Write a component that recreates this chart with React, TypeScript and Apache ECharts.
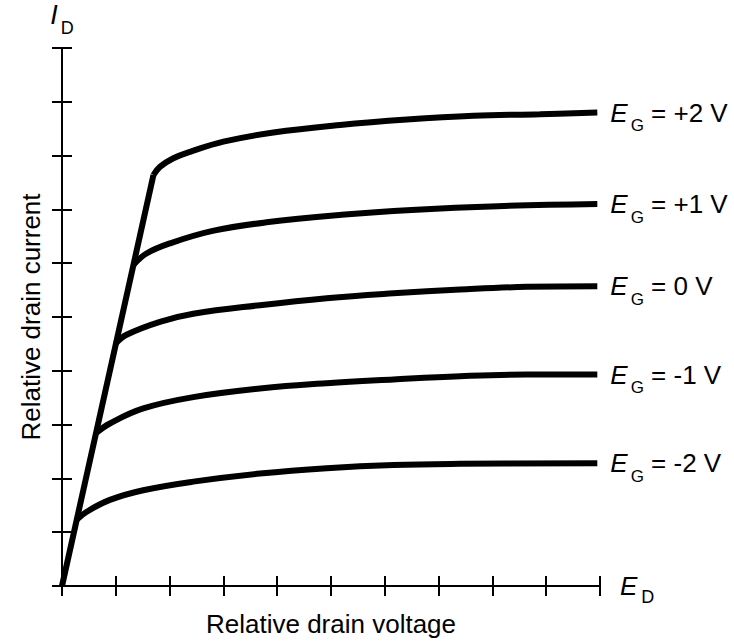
import React, { useEffect, useRef } from "react";
import * as echarts from "echarts";

// Diagonal (ohmic region boundary)
const diagX = [0, 1.7];
const diagY = [0, 7.64];

// Gate-voltage curves: drain voltage (x) and relative drain current (y)
const p2X = [1.7, 1.82, 2.07, 2.38, 3.0, 3.93, 5.17, 6.41, 7.65, 8.88, 9.95];
const p2Y = [7.64, 7.79, 7.95, 8.07, 8.26, 8.43, 8.57, 8.67, 8.74, 8.77, 8.8];

const p1X = [1.33, 1.57, 2.01, 2.8, 3.8, 5.2, 6.5, 8.1, 9.95];
const p1Y = [5.97, 6.18, 6.37, 6.6, 6.76, 6.9, 6.99, 7.06, 7.1];

const z0X = [1.0, 1.2, 1.82, 2.44, 3.68, 4.92, 6.16, 7.4, 8.64, 9.95];
const z0Y = [4.51, 4.67, 4.91, 5.06, 5.22, 5.35, 5.44, 5.51, 5.56, 5.57];

const m1X = [0.63, 0.89, 1.51, 2.44, 3.68, 4.92, 6.16, 7.4, 8.64, 9.95];
const m1Y = [2.84, 3.02, 3.3, 3.51, 3.67, 3.77, 3.84, 3.9, 3.93, 3.93];

const m2X = [0.27, 0.46, 0.89, 1.51, 2.44, 3.68, 4.92, 6.16, 7.4, 9.95];
const m2Y = [1.23, 1.38, 1.6, 1.78, 1.94, 2.09, 2.19, 2.25, 2.27, 2.28];

const gateLabels = ["+2 V", "+1 V", "0 V", "-1 V", "-2 V"];

const FONT = "'Liberation Sans', Arial, Helvetica, sans-serif";

function zip(xs: number[], ys: number[]) {
  return xs.map((x, i) => [x, ys[i]]);
}

export default function App() {
  const ref = useRef<HTMLDivElement>(null);
  useEffect(() => {
    if (!ref.current) return;
    const chart = echarts.init(ref.current, null, { renderer: "svg" });
    const curves = [
      [p2X, p2Y],
      [p1X, p1Y],
      [z0X, z0Y],
      [m1X, m1Y],
      [m2X, m2Y],
    ];
    const richLabel = {
      e: { fontSize: 26, fontStyle: "italic", fontFamily: FONT, color: "#000", lineHeight: 28 },
      g: { fontSize: 17, fontFamily: FONT, color: "#000", lineHeight: 20, padding: [26, 0, 0, 3] },
      t: { fontSize: 26, fontFamily: FONT, color: "#000", lineHeight: 28 },
    };
    const lineStyle = { color: "#000", width: 6 };
    const series: any[] = [
      {
        type: "line",
        data: zip(diagX, diagY),
        showSymbol: false,
        symbol: "none",
        lineStyle,
        silent: true,
      },
      ...curves.map((c, i) => ({
        type: "line",
        data: zip(c[0], c[1]),
        smooth: 0.4,
        symbol: "none",
        showSymbol: false,
        lineStyle,
        silent: true,
        endLabel: {
          show: true,
          distance: 13,
          formatter: "{e|E}{g|G}{t| = " + gateLabels[i] + "}",
          rich: richLabel,
        },
      })),
    ];
    const tick = { show: true, length: 10, lineStyle: { color: "#000", width: 2 } };
    chart.setOption({
      animation: false,
      backgroundColor: "#fff",
      grid: { left: 62, right: 134, top: 48, bottom: 58, outerBoundsMode: "none", containLabel: false },
      xAxis: [
        {
          type: "value",
          min: 0,
          max: 10,
          interval: 1,
          position: "bottom",
          axisLine: { show: true, onZero: false, lineStyle: { color: "#000", width: 2 } },
          axisTick: { ...tick, inside: false },
          axisLabel: { show: false },
          splitLine: { show: false },
          name: "{e|E}{d|D}",
          nameLocation: "end",
          nameGap: 20,
          nameTextStyle: {
            rich: {
              e: { fontSize: 26, fontStyle: "italic", fontFamily: FONT, color: "#000", lineHeight: 28 },
              d: { fontSize: 18, fontFamily: FONT, color: "#000", lineHeight: 20, padding: [22, 0, 0, 4] },
            },
          },
        },
        {
          type: "value",
          min: 0,
          max: 10,
          interval: 1,
          position: "bottom",
          axisLine: { show: false, onZero: false },
          axisTick: { ...tick, inside: true },
          axisLabel: { show: false },
          splitLine: { show: false },
          name: "Relative drain voltage",
          nameLocation: "middle",
          nameGap: 25,
          nameTextStyle: { fontSize: 26, fontFamily: FONT, color: "#000" },
        },
      ],
      yAxis: [
        {
          type: "value",
          min: 0,
          max: 10,
          interval: 1,
          position: "left",
          axisLine: { show: true, onZero: false, lineStyle: { color: "#000", width: 2 } },
          axisTick: { ...tick, inside: false },
          axisLabel: { show: false },
          splitLine: { show: false },
          name: "{i|I}{d|D}",
          nameLocation: "end",
          nameGap: 19,
          nameTextStyle: {
            rich: {
              i: { fontSize: 27, fontStyle: "italic", fontFamily: FONT, color: "#000", lineHeight: 28 },
              d: { fontSize: 18, fontFamily: FONT, color: "#000", lineHeight: 20, padding: [25, 0, 0, 3] },
            },
          },
        },
        {
          type: "value",
          min: 0,
          max: 10,
          interval: 1,
          position: "left",
          axisLine: { show: false, onZero: false },
          axisTick: { ...tick, inside: true },
          axisLabel: { show: false },
          splitLine: { show: false },
          name: "Relative drain current",
          nameLocation: "middle",
          nameGap: 18,
          nameTextStyle: { fontSize: 26, fontFamily: FONT, color: "#000" },
        },
      ],
      series,
    });
    return () => chart.dispose();
  }, []);
  return (
    <div
      ref={ref}
      style={{ position: "fixed", left: 0, top: 0, width: 734, height: 644, background: "#fff" }}
    />
  );
}
